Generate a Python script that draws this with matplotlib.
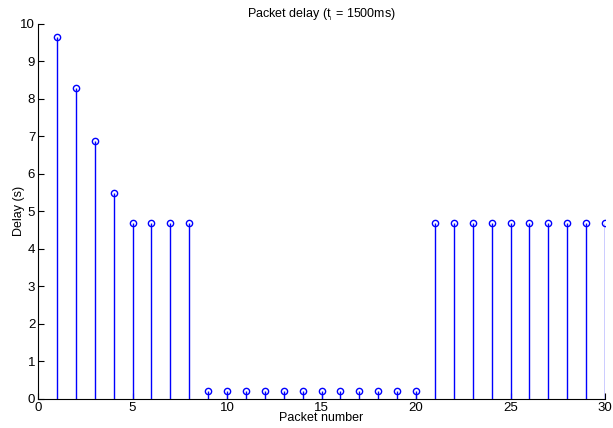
import matplotlib.pyplot as plt
import numpy as np

plt.rcParams['font.family'] = ['Liberation Sans', 'DejaVu Sans']
plt.rcParams['mathtext.fontset'] = 'custom'
plt.rcParams['mathtext.rm'] = 'Liberation Sans'

packets = list(range(1, 31))
delays = [9.66, 8.28, 6.87, 5.50, 4.70, 4.70, 4.70, 4.70,
          0.21, 0.21, 0.21, 0.21, 0.21, 0.21, 0.21, 0.21, 0.21, 0.21, 0.21, 0.21,
          4.70, 4.70, 4.70, 4.70, 4.70, 4.70, 4.70, 4.70, 4.70, 4.70]

fig = plt.figure(figsize=(6.13, 4.28), dpi=100)
ax = fig.add_axes([0.062, 0.068, 0.925, 0.876])

markerline, stemlines, baseline = ax.stem(packets, delays, basefmt=' ')
plt.setp(stemlines, color='blue', linewidth=1)
plt.setp(markerline, color='blue', marker='o', markersize=4.5,
         markerfacecolor='none', markeredgewidth=1)

ax.set_xlim(0, 30)
ax.set_ylim(0, 10)
ax.set_xticks(range(0, 31, 5))
ax.set_yticks(range(0, 11))
ax.tick_params(direction='in', labelsize=9.5, length=4, pad=2)
ax.spines['top'].set_visible(False)
ax.spines['right'].set_visible(False)
ax.set_xlabel('Packet number', fontsize=9, labelpad=-1)
ax.set_ylabel('Delay (s)', fontsize=9, labelpad=-3)
ax.set_title('Packet delay ($\\mathregular{t_{_i}}$ = 1500ms)', fontsize=9, pad=5)

fig.savefig('out.png', dpi=100)
